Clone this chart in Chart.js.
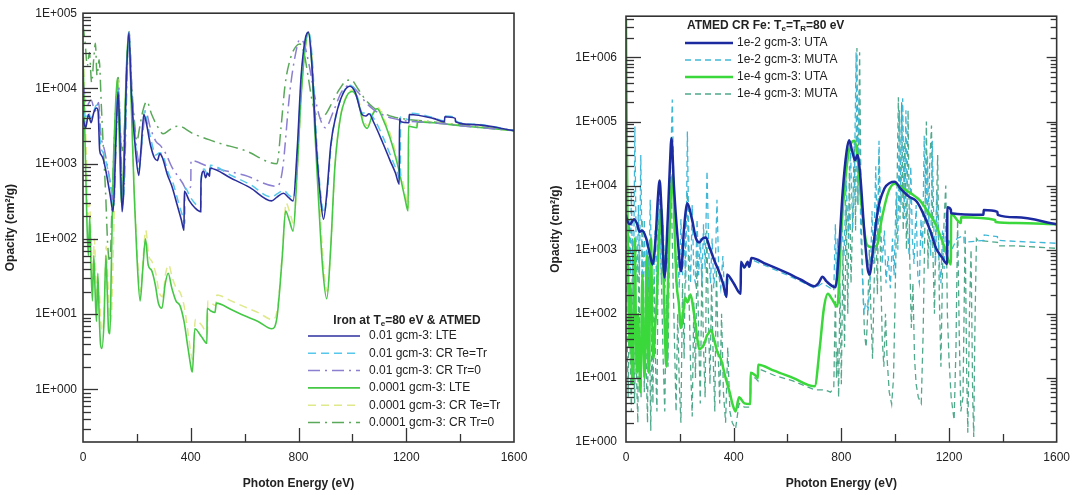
<!DOCTYPE html>
<html><head><meta charset="utf-8">
<script src="https://cdn.jsdelivr.net/npm/chart.js@4.4.0/dist/chart.umd.min.js"></script>
<style>
html,body{margin:0;padding:0;background:#fff;width:1078px;height:495px;overflow:hidden}
#w1{position:absolute;left:0;top:0;width:540px;height:495px}
#w2{position:absolute;left:540px;top:0;width:538px;height:495px}
</style></head><body>
<div id="w1"><canvas id="c1"></canvas></div>
<div id="w2"><canvas id="c2"></canvas></div>
<script>
// ---------- tick labels ----------
const xTickLabels = [0, 400, 800, 1200, 1600];
const xAxisTitle = 'Photon Energy (eV)';
const yAxisTitle = 'Opacity (cm\u00B2/g)';

// ---------- LEFT PANEL: Iron at Te=80 eV & ATMED ----------
const lteE1 = [0,10,20,30,40,50,56,62,68,75, 85,100,112,122,130,136,145,150,160,170, 180,195,207,215,226,235,250,265,276,285, 295,313,330,350,365,375,376,395,415,437, 438,448,455,462,470,471,550,620,700,720, 744,765,780,795,810,825,837,850,865,880, 893,905,920,940,965,990,1010,1036,1050,1062, 1080,1110,1140,1160,1174,1175,1180,1210,1211,1300, 1342,1343,1382,1383,1450,1600];
const lteV1 = [4000,3000,4500,3500,4800,5500,5000,1500,1300,1150, 800,400,230,2000,9000,3000,230,400,10000,55000, 8000,1500,700,1500,4500,3500,1800,1200,1100,1350, 1200,720,500,280,180,130,430,320,260,230, 580,800,650,750,680,870,640,480,320,360, 405,350,320,1500,15000,45000,56000,20000,2000,400, 183,400,1800,4500,8500,10700,9000,4500,4300,4600, 3500,2000,1100,750,535,4000,3600,3500,4500,4000, 3600,4200,4000,3600,3300,2750];

const crE1 = [0,10,20,30,40,50,58,65,75,90, 105,115,122,130,137,146,152,162,170,180, 195,208,218,228,240,255,270,285,300,315, 335,355,370,378,379,398,418,438,439,450, 462,472,473,550,620,700,722,745,765,782, 797,812,827,838,852,866,880,895,908,922, 942,966,990,1012,1038,1060,1085,1115,1145,1165, 1178,1179,1212,1213,1300,1342,1343,1382,1383,1450, 1600];
const crV1 = [5000,4200,4800,4000,5000,6000,5500,1800,1400,900, 450,280,2300,9500,3300,280,480,11000,56000,9000, 1800,850,1800,5000,3300,1900,1300,1400,1200,780, 540,300,200,160,480,360,290,260,650,850, 720,760,950,700,530,360,400,440,380,350, 1700,16000,46000,57000,22000,2400,480,220,450,1900, 4700,8800,11000,9200,4700,4700,3700,2200,1200,800, 600,4200,3800,4700,4100,3700,4300,4100,3700,3350, 2750];

const trE1 = [0,15,30,45,58,66,80,100,114,124, 131,138,147,154,163,171,182,196,210,222, 232,250,270,290,310,330,350,370,385,400, 401,420,440,470,500,600,720,740,768,790, 805,820,840,860,880,900,930,960,990,1020, 1050,1080,1110,1150,1200,1300,1400,1600];
const trV1 = [12000,6000,7000,5000,6500,2500,1500,600,300,2500, 10000,3500,300,600,12000,56000,9000,2000,1000,2500, 5000,3000,2000,1700,1300,900,700,550,450,500, 1100,1070,1000,900,850,700,500,800,9100,30000, 45000,40000,20000,8000,4000,3000,5000,9000,11000,9000, 6500,5200,4500,4000,3700,3500,3200,2750];

const lteE2 = [0,5,10,15,20,25,30,35,40,45, 50,55,60,65,70,78,85,90,95,100, 105,112,120,128,135,142,150,160,170,180, 190,200,212,222,232,242,255,268,280,293, 305,316,330,345,360,375,390,403,406,415, 440,460,461,475,490,495,550,600,650,701, 720,740,752,765,780,795,810,825,836,848, 860,875,890,905,918,935,955,980,1000,1020, 1040,1055,1075,1092,1110,1140,1170,1195,1207,1208, 1240,1241,1300,1400,1600];
const lteV2 = [30000,5000,800,150,60,200,40,15,60,20, 8,35,10,4,3.5,8,60,20,6,5.5, 40,800,5000,14000,2000,300,800,15000,55000,5000, 400,60,15,40,100,45,38,25,14,12, 25,35,22,15,13,8,3.5,1.8,1.7,6.4, 5,4.1,12,11,10.5,14,11.5,9.5,8,6.4, 9,60,235,180,127,800,8000,35000,54000,25000, 3000,300,40,16,60,900,4000,8000,9100,7000, 3500,2950,4500,5400,4200,2200,900,350,235,3150, 3000,3600,3500,3200,2750];

const crE2 = [0,6,12,18,24,30,36,42,48,54, 60,66,72,80,86,92,98,104,112,120, 128,136,143,151,161,170,180,190,200,213, 223,233,244,256,270,282,295,307,318,332, 347,362,377,392,404,408,417,442,462,463, 477,492,497,550,600,650,703,722,742,754, 767,782,797,812,827,838,850,862,877,892, 907,920,937,957,982,1002,1022,1042,1057,1077, 1094,1112,1142,1172,1197,1209,1210,1242,1243,1300, 1400,1600];
const crV2 = [40000,8000,1500,200,300,100,30,100,30,15, 20,8,6,15,80,30,10,8,60,1000, 14000,2500,400,1000,16000,56000,6000,500,80,20, 55,130,60,50,35,20,17,35,45,30, 22,19,12,5,2.6,2.5,8.5,7,5.5,15, 14,13,18,15,12.5,10.5,8.5,12,80,300, 230,160,1000,10000,38000,55000,27000,3500,400,50, 20,80,1100,4500,8500,9500,7300,3800,3200,4700, 5600,4400,2400,1000,400,260,3300,3200,3700,3550, 3250,2750];

const trE2 = [0,8,16,24,32,40,46,52,60,68, 76,84,92,100,108,116,124,131,138,146, 154,162,171,180,190,200,210,222,237,255, 275,298,320,340,360,380,400,420,450,500, 600,720,735,750,770,790,805,820,835,850, 865,880,900,925,950,975,995,1020,1050,1080, 1110,1150,1200,1300,1400,1600];
const trV2 = [70000,40000,20000,30000,12000,25000,40000,15000,24000,6000, 1500,400,80,50,300,2000,8000,14000,3000,1500, 3000,20000,57000,12000,4000,2000,3000,5000,6700,4500, 3200,2500,2800,3100,3150,2900,2600,2400,2200,1900, 1500,1000,3000,11000,25000,36000,39000,30000,15000,7000, 4500,4000,4500,6500,9500,12500,13000,10000,7000,5500, 4800,4200,3900,3600,3300,2750];

// ---------- RIGHT PANEL: ATMED CR Fe ----------
const utaE1 = [0,3,15,30,40,51,60,75,90,99, 110,118,125,131,143,155,163,169,178,192, 205,215,228,245,260,272,285,297,310,330, 345,360,374,375,400,426,427,440,452,458, 466,520,600,650,701,715,730,745,778,790, 805,820,829,840,851,860,870,885,898,906, 915,935,960,980,998,1020,1050,1079,1100,1130, 1152,1175,1193,1194,1207,1208,1328,1329,1380,1381, 1450,1600];
const utaV1 = [3500,3000,2500,3000,2600,1900,2000,1500,800,590, 1500,6000,12000,5000,370,3000,20000,55000,10000,1500, 460,2000,5300,3000,1500,1300,1500,1550,1100,650, 460,300,183,410,300,205,650,530,650,540, 740,600,430,340,270,300,380,320,260,800, 8000,35000,51000,35000,25000,30000,15000,2000,500,410, 800,4000,9000,11000,11500,9000,6800,5700,4000,2000, 1050,750,600,4600,4200,3700,3500,4150,3900,3500, 3200,2500];

const mutaE1 = [0,4,8,12,16,20,24,28,33,38, 42,46,50,55,60,64,68,72,78,84, 90,96,102,108,114,120,126,132,138,145, 152,158,164,172,180,186,192,198,204,210, 216,222,228,234,240,246,252,258,264,270, 276,282,288,294,301,308,314,320,326,332, 338,345,352,360,366,374,380,400,426,427, 440,452,458,466,520,600,650,701,730,760, 772,778,782,786,790,800,810,818,826,834, 842,848,855,860,866,872,878,884,890,900, 908,914,920,928,934,940,946,952,960,966, 974,982,990,996,1004,1010,1016,1022,1028,1034, 1040,1046,1052,1058,1064,1070,1078,1084,1090,1096, 1102,1108,1114,1120,1126,1132,1138,1144,1150,1156, 1162,1170,1176,1182,1188,1194,1200,1210,1230,1255, 1256,1330,1331,1380,1381,1450,1600];
const mutaV1 = [30000,2000,300,3000,400,8000,600,300,84000,800, 300,5000,400,30000,500,250,3000,300,1500,250, 6000,300,200,2000,300,8000,1500,300,2500,250, 1000,400,10000,220000,2000,300,800,250,3000,400, 1500,300,70000,1000,300,5000,400,300,3000,400, 1500,300,2500,500,17000,800,300,1500,250,600, 6000,400,250,800,200,180,380,300,200,600, 500,600,500,700,560,400,320,250,300,250, 230,2500,300,1500,400,3000,800,12000,1500,40000, 2000,8000,1200000,5000,300000,2000,400,100,150,120, 400,4000,600,20000,1000,50000,3000,600,2000,300, 800,250,1500,400,8000,1000,150000,5000,230000,3000, 150000,2000,800,20000,1500,600,5000,400,300,3000, 1000,60000,3000,30000,2000,800,50000,2000,600,8000, 800,300,2000,500,3000,800,1500,1000,1500,1660, 1300,1400,1700,1600,1400,1350,1260];

const utaE2 = [0,2,5,9,13,17,21,25,29,33, 37,41,45,49,53,57,61,65,69,73, 77,81,85,89,93,97,102,108,114,120, 126,132,138,144,150,156,163,173,180,188, 196,204,212,220,228,240,250,260,272,283, 292,300,310,316,327,340,352,370,385,395, 407,420,440,462,463,480,490,491,550,620, 701,720,735,750,765,785,800,820,835,849, 860,875,895,910,932,950,975,998,1030,1060, 1090,1120,1150,1180,1207,1208,1244,1245,1372,1373, 1450,1600];
const utaV2 = [4000000,200000,5000,200,30,300,20,8,80,1500, 50,12,100,25,6,40,400,30,10,60, 800,40,12,150,1500,100,20,60,150,800, 2500,4300,800,60,15,300,3000,15000,2500,300, 150,60,100,180,150,200,120,60,28,30, 35,45,52,56,40,25,20,10,6,4, 3,5,4,3.9,12,11,10,16,13,10, 7.4,30,120,205,170,130,2000,20000,45000,50000, 30000,5000,1200,1100,1170,3000,8000,10700,9000,7500, 6000,4000,2500,1200,590,3600,2600,3200,2900,2700, 2600,2500];

const mutaE2 = [0,4,8,12,16,20,24,28,32,36, 40,44,48,52,56,60,64,68,72,76, 80,84,88,92,96,100,105,110,115,120, 126,132,138,144,150,156,162,168,174,180, 186,192,198,204,210,216,222,228,234,240, 246,252,258,264,270,276,282,288,294,300, 306,312,318,324,330,336,342,348,355,362, 370,378,386,395,407,420,440,462,463,480, 490,491,550,620,701,740,760,772,778,782, 786,790,795,800,806,812,818,824,830,836, 842,848,853,858,862,868,874,880,886,892, 898,904,910,916,922,928,934,940,946,952, 958,964,970,978,987,994,1000,1006,1012,1018, 1024,1030,1036,1042,1048,1054,1060,1066,1072,1078, 1086,1097,1104,1110,1116,1122,1128,1135,1140,1146, 1152,1158,1164,1170,1176,1182,1188,1194,1200,1208, 1219,1226,1232,1238,1244,1252,1260,1266,1270,1276, 1282,1288,1292,1296,1302,1308,1380,1381,1450,1600];
const mutaV2 = [20000,50,5,300,20,3,1500,40,4,100, 8,2,1000,30,5,3000,50,6,300,10, 2,800,30,1.5,60,4,400,15,3,2000, 8000,300,20,3,200,15,2000,10000,500,40, 3,100,8,2,300,20,3000,8000,200,15, 2.5,150,10,1000,50,4,600,30,5,2000, 100,8,300,20,3,500,30,4,100,6, 2,30,3,2,1.6,4,3.5,3.5,10,10, 9,14,11,9,6.5,6.5,6,7,200,10, 30,5,300,8,1000,30,5000,100,20000,300, 3000,50000,2000,1400000,5000,1200000,3000,300,50,30, 100,1000,100,20,300,3000,200,30000,500,40, 15,100,20,6,3.9,10,200,5000,240000,3000, 200000,2000,50000,1000,150000,800,60,300,20,8, 5,4,50,2000,100000,500,20000,87000,1000,100, 3000,30000,200,15,500,3000,10000,100,20,5, 2.2,30,3000,50,3,5,2000,10,1.4,100, 1000,5,1.2,50,1500,1400,1300,1150,1150,1050];

// ---------- helpers ----------
const FONT = '"Liberation Sans", Arial, sans-serif';
const TXT = '#222';
function pts(E, V) { return E.map((e, i) => ({ x: e, y: V[i] })); }
function expLabel(v) {
  const e = Math.log10(v);
  if (Math.abs(e - Math.round(e)) < 1e-9) {
    const n = Math.round(e);
    return '1E' + (n < 0 ? '-' : '+') + String(Math.abs(n)).padStart(3, '0');
  }
  return null;
}
function logTicks(min, max) {
  const out = [];
  for (let p = Math.floor(Math.log10(min)) - 1; p <= Math.ceil(Math.log10(max)); p++) {
    for (let m = 1; m <= 9; m++) {
      const v = parseFloat((m * Math.pow(10, p)).toPrecision(6));
      if (v >= min * 0.9999 && v <= max * 1.0001) out.push({ value: v, major: m === 1 });
    }
  }
  return out;
}

const frameTicks = {
  id: 'frameTicks',
  afterDatasetsDraw(chart, args, opts) {
    const { ctx, chartArea: a, scales: { x, y } } = chart;
    ctx.save();
    ctx.strokeStyle = '#333';
    ctx.lineWidth = 1.3;
    const line = (x0, y0, x1, y1) => { ctx.beginPath(); ctx.moveTo(x0, y0); ctx.lineTo(x1, y1); ctx.stroke(); };
    logTicks(y.min, y.max).forEach(t => {
      const py = Math.round(y.getPixelForValue(t.value)) + 0.5;
      if (py < a.top + 1 || py > a.bottom - 1) return;
      line(a.left, py, a.left + (t.major ? 15 : 8), py);
      if (opts.mirror) line(a.right, py, a.right - (t.major ? 10 : 6), py);
    });
    for (let v = 0; v <= 1600; v += 200) {
      const px = Math.round(x.getPixelForValue(v)) + 0.5;
      if (px < a.left + 1 || px > a.right - 1) continue;
      line(px, a.bottom, px, a.bottom - (v % 400 === 0 ? 14 : 8));
    }
    ctx.lineWidth = 1.6;
    ctx.strokeRect(a.left, a.top, a.width, a.height);
    ctx.restore();
  }
};

function drawRich(ctx, parts, x, y, size) {
  let cx = x;
  parts.forEach(p => {
    ctx.font = (p.sub ? 'bold ' + Math.round(size * 0.65) + 'px ' : 'bold ' + size + 'px ') + FONT;
    ctx.fillText(p.t, cx, p.sub ? y + 3 : y);
    cx += ctx.measureText(p.t).width;
  });
}
function richWidth(ctx, parts, size) {
  let w = 0;
  parts.forEach(p => {
    ctx.font = (p.sub ? 'bold ' + Math.round(size * 0.65) + 'px ' : 'bold ' + size + 'px ') + FONT;
    w += ctx.measureText(p.t).width;
  });
  return w;
}

const boxLegend = {
  id: 'boxLegend',
  afterDraw(chart, args, o) {
    const ctx = chart.ctx;
    ctx.save();
    ctx.fillStyle = TXT;
    ctx.textBaseline = 'middle';
    ctx.textAlign = 'left';
    let tx = o.titleX;
    if (o.titleCenter) tx = o.titleX - richWidth(ctx, o.title, 12) / 2;
    drawRich(ctx, o.title, tx, o.titleY, 12);
    chart.data.datasets.forEach((ds, i) => {
      const yy = o.rowY + i * o.rowGap;
      ctx.save();
      ctx.strokeStyle = ds.borderColor;
      ctx.lineWidth = ds.borderWidth;
      ctx.setLineDash(ds.borderDash || []);
      ctx.beginPath(); ctx.moveTo(o.x0, yy); ctx.lineTo(o.x1, yy); ctx.stroke();
      ctx.restore();
      ctx.font = '12px ' + FONT;
      ctx.fillStyle = TXT;
      ctx.fillText(ds.label, o.textX, yy);
    });
    ctx.restore();
  }
};

function lineDs(label, E, V, color, width, dash, order, smooth) {
  return {
    label, data: pts(E, V), borderColor: color, borderWidth: width, borderDash: dash || [],
    pointRadius: 0, fill: false, order,
    cubicInterpolationMode: smooth ? 'monotone' : 'default', tension: 0
  };
}

function makeOptions(yMin, yMax, yWidth, yPad, yTitlePad, layoutPad, legendOpts, mirror) {
  return {
    responsive: true, maintainAspectRatio: false, animation: false,
    layout: { padding: layoutPad },
    plugins: {
      legend: { display: false }, tooltip: { enabled: false },
      frameTicks: { mirror }, boxLegend: legendOpts
    },
    scales: {
      x: {
        type: 'linear', min: 0, max: 1600,
        grid: { display: false, drawTicks: false }, border: { display: false },
        ticks: {
          stepSize: 400, autoSkip: false, maxRotation: 0, padding: 8,
          color: TXT, font: { family: FONT, size: 12 },
          callback: v => xTickLabels.includes(v) ? String(v) : null
        },
        title: { display: true, text: xAxisTitle, color: TXT, font: { family: FONT, size: 12, weight: 'bold' }, padding: { top: 0, bottom: 4 } },
        afterFit: s => { s.height = 53; }
      },
      y: {
        type: 'logarithmic', min: yMin, max: yMax,
        grid: { display: false, drawTicks: false }, border: { display: false },
        ticks: { autoSkip: false, padding: yPad, color: TXT, font: { family: FONT, size: 12 }, callback: v => expLabel(v) },
        afterBuildTicks: s => { s.ticks = logTicks(yMin, yMax).filter(t => t.major); },
        title: { display: true, text: yAxisTitle, color: TXT, font: { family: FONT, size: 12, weight: 'bold' }, padding: { top: yTitlePad, bottom: 0 } },
        afterFit: s => { s.width = yWidth; }
      }
    }
  };
}

// ---------- left chart ----------
new Chart(document.getElementById('c1'), {
  type: 'line',
  data: {
    datasets: [
      lineDs('0.01 gcm-3: LTE', lteE1, lteV1, '#2b2f9e', 1.6, null, 0, true),
      lineDs('0.01 gcm-3: CR Te=Tr', crE1, crV1, '#55c8ec', 1.5, [8, 5], 1, true),
      lineDs('0.01 gcm-3: CR Tr=0', trE1, trV1, '#8a7fd0', 1.5, [12, 5, 2, 5], 2, true),
      lineDs('0.0001 gcm-3: LTE', lteE2, lteV2, '#45c845', 1.6, null, 3, true),
      lineDs('0.0001 gcm-3: CR Te=Tr', crE2, crV2, '#dfe98a', 1.5, [8, 5], 4, true),
      lineDs('0.0001 gcm-3: CR Tr=0', trE2, trV2, '#5aa85a', 1.5, [12, 5, 2, 5], 5, true)
    ]
  },
  options: makeOptions(0.2, 1e5, 83, 6, 3, { top: 11, right: 26, left: 0, bottom: 0 }, {
    title: [{ t: 'Iron at T' }, { t: 'e', sub: true }, { t: '=80 eV & ATMED' }],
    titleX: 407, titleCenter: true, titleY: 321,
    rowY: 336, rowGap: 17.3, x0: 308, x1: 360, textX: 369
  }, false),
  plugins: [frameTicks, boxLegend]
});

// ---------- right chart ----------
new Chart(document.getElementById('c2'), {
  type: 'line',
  data: {
    datasets: [
      lineDs('1e-2 gcm-3: UTA', utaE1, utaV1, '#1c2aa0', 2.5, null, 0, true),
      lineDs('1e-2 gcm-3: MUTA', mutaE1, mutaV1, '#3fb8d8', 1.3, [6, 4], 2, false),
      lineDs('1e-4 gcm-3: UTA', utaE2, utaV2, '#3ad83a', 2.5, null, 1, true),
      lineDs('1e-4 gcm-3: MUTA', mutaE2, mutaV2, '#4fa98a', 1.3, [6, 4], 3, false)
    ]
  },
  options: makeOptions(1, 4.4e6, 86, 9, 8, { top: 5, right: 16, left: 0, bottom: 0 }, {
    title: [{ t: 'ATMED CR Fe: T' }, { t: 'e', sub: true }, { t: '=T' }, { t: 'R', sub: true }, { t: '=80 eV' }],
    titleX: 147, titleCenter: false, titleY: 26,
    rowY: 43, rowGap: 17, x0: 145, x1: 193, textX: 197
  }, true),
  plugins: [frameTicks, boxLegend]
});
</script>
</body></html>
